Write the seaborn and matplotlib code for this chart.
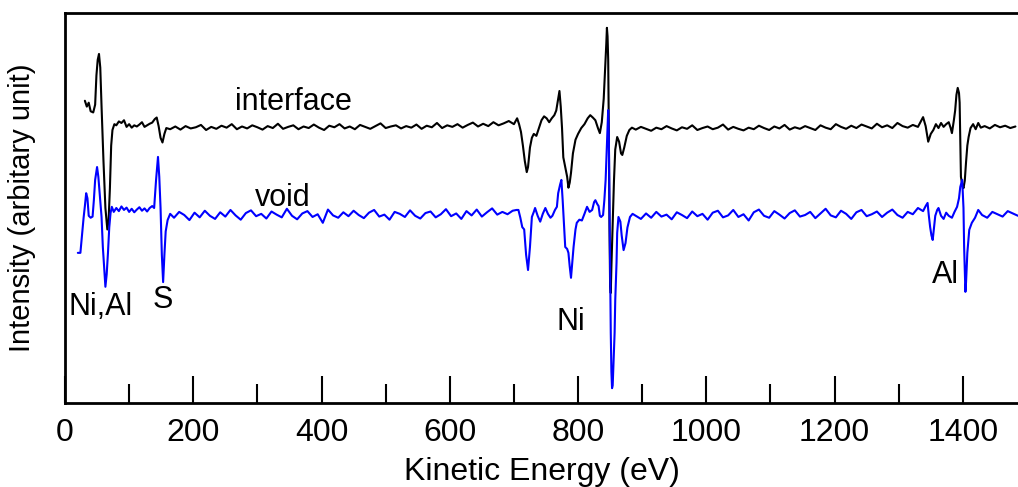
import matplotlib
matplotlib.use("Agg")
import matplotlib.pyplot as plt
from matplotlib.ticker import MultipleLocator
import numpy as np
import pandas as pd
import seaborn as sns

# ---- interface spectrum (black) ----
iface_nial_E = [31, 34, 37, 40, 44, 47, 49, 51, 53, 55, 57, 60, 63, 66, 68, 70, 72, 74, 77, 80,
                84, 88, 92, 96, 100, 104, 108, 112, 116, 120, 124, 128, 132, 136, 140, 143, 146,
                149, 152, 155, 158]
iface_nial_I = [77.5, 76.0, 77.0, 74.8, 74.5, 76.5, 84.0, 88.0, 89.5, 86.0, 76.0, 62.0, 50.0, 44.5,
                47.0, 55.0, 66.0, 70.0, 71.5, 71.2, 72.2, 71.8, 72.5, 70.8, 71.5, 70.6, 71.2, 70.9,
                71.4, 72.0, 70.8, 71.2, 71.6, 71.9, 72.8, 73.2, 71.0, 68.0, 66.8, 69.0, 70.5]
# 164 eV onwards, every 8 eV
iface_flat1_I = [70.2, 70.9, 70.1, 71.0, 70.4, 70.7, 71.3, 70.0, 70.8, 70.3,
                 71.1, 70.6, 71.5, 70.2, 70.9, 70.4, 71.2, 70.7, 70.1, 71.0,
                 70.5, 71.6, 70.3, 70.8, 71.2, 70.2, 70.9, 70.5, 71.4, 70.6,
                 70.0, 71.1, 70.7, 71.5, 70.4, 70.9, 70.2, 71.3, 70.8, 70.3,
                 71.0, 71.7, 70.5, 70.9, 71.2, 70.4, 71.0, 70.6, 71.4, 70.3,
                 71.1, 70.7, 71.8, 70.5, 71.2, 70.8, 71.5, 70.6, 71.3, 71.9,
                 70.9, 71.6, 71.0, 72.0, 71.2, 71.7, 72.3, 71.5]
iface_ni_E = [705, 708, 711, 714, 717, 720, 722, 725, 728, 731, 735, 739, 743, 747, 751, 755, 759,
              763, 766, 769, 771, 773, 775, 777, 780, 783, 785, 787, 789, 792, 796, 800, 805, 810,
              815, 819, 823, 827, 831, 834, 837, 840, 842, 844, 845, 846, 847, 848, 849, 850, 851,
              852, 854, 856, 858, 861, 864, 867, 869, 872, 876, 880, 884]
iface_ni_I = [73.0, 71.5, 69.5, 66.0, 62.0, 59.2, 60.5, 65.5, 68.0, 69.0, 68.5, 70.5, 72.5, 73.5,
              73.0, 72.0, 73.0, 73.8, 75.0, 78.0, 80.0, 76.0, 70.5, 63.0, 60.5, 58.0, 55.2, 56.5,
              59.0, 64.0, 67.5, 69.0, 70.5, 71.5, 73.0, 73.8, 73.2, 72.5, 70.5, 69.2, 72.0, 78.0,
              85.0, 92.0, 96.2, 94.0, 88.0, 70.0, 45.0, 30.0, 28.2, 35.0, 46.0, 57.0, 65.0, 68.2,
              67.0, 64.0, 63.6, 65.5, 68.5, 70.0, 70.6]
# 890 eV onwards, every 8 eV
iface_flat2_I = [70.1, 70.8, 70.3, 69.8, 70.6, 70.2, 71.0, 70.4, 69.9, 70.7,
                 70.3, 71.2, 70.0, 70.5, 70.9, 70.2, 70.6, 71.4, 70.1, 70.8,
                 70.3, 69.9, 70.6, 70.2, 71.1, 70.5, 70.0, 70.9, 70.4, 71.3,
                 70.1, 70.7, 70.3, 71.0, 70.5, 70.0, 71.2, 70.6, 70.2, 71.5,
                 70.8, 70.3, 71.1, 70.5, 71.4, 70.9, 70.4, 71.6, 70.7, 71.2,
                 70.5, 71.8, 71.0, 70.6, 71.3, 70.8]
iface_al_E = [1338, 1342, 1346, 1350, 1354, 1358, 1362, 1366, 1370, 1374, 1378, 1381, 1383, 1386,
              1388, 1390, 1392, 1394, 1395, 1396, 1397, 1399, 1401, 1403, 1405, 1407, 1409, 1412,
              1416, 1420, 1424, 1428]
iface_al_I = [73.3, 71.0, 67.0, 69.0, 70.0, 71.5, 70.5, 71.8, 70.8, 71.5, 72.0, 70.5, 69.2, 72.5,
              75.0, 79.0, 80.8, 79.5, 77.0, 68.0, 58.0, 56.0, 55.1, 57.0, 61.8, 66.0, 68.2, 70.5,
              71.5, 70.2, 71.8, 70.6]
iface_flat3_I = [71.0, 70.4, 71.3, 70.7, 71.1, 70.5, 70.9]  # 1434 eV onwards

# ---- void spectrum (blue) ----
void_nial_E = [20, 24, 27, 29, 31, 33, 35, 37, 40, 43, 45, 47, 50, 52, 55, 57, 59, 61, 63, 65, 67,
               69, 71, 73, 76, 80, 84, 88, 92, 96, 100, 104, 108, 112, 116, 120, 124, 128, 132,
               136, 139, 142, 145, 147, 149, 151, 153, 155, 157, 160, 164]
void_nial_I = [38.5, 38.5, 44.0, 47.5, 50.5, 53.8, 52.5, 48.0, 47.5, 47.8, 52.0, 57.2, 60.5, 58.0,
               52.0, 47.7, 40.0, 34.9, 29.8, 33.0, 38.5, 45.0, 48.7, 50.3, 49.0, 50.0, 49.2, 50.4,
               49.5, 50.1, 49.0, 49.8, 48.9, 49.6, 50.2, 49.3, 49.9, 49.1, 50.0, 50.5, 50.0, 57.2,
               63.1, 58.0, 50.0, 38.0, 31.0, 38.0, 44.0, 46.9, 48.5]
# 170 eV onwards, every 8 eV
void_flat1_I = [47.5, 49.0, 48.2, 46.9, 48.8, 47.6, 49.3, 48.0, 47.2, 48.9,
                47.8, 49.5, 48.1, 47.0, 48.7, 49.4, 47.9, 48.5, 47.3, 49.1,
                48.3, 47.6, 49.8, 48.0, 47.1, 48.6, 49.2, 47.7, 48.4, 46.2,
                49.6, 48.1, 47.5, 48.9, 47.9, 49.3, 48.2, 47.4, 48.8, 49.5,
                47.8, 48.3, 47.0, 49.0, 48.5, 47.7, 49.4, 48.0, 47.3, 48.7,
                49.1, 47.6, 48.4, 49.7, 47.9, 48.6, 47.2, 49.2, 48.1, 49.6,
                47.8, 48.9, 49.9, 48.3, 49.0, 48.4, 49.3]
void_ni_E = [704, 707, 710, 713, 716, 719, 722, 725, 728, 731, 733, 737, 741, 745, 749, 753, 757,
             760, 764, 767, 769, 772, 774, 776, 778, 780, 783, 785, 787, 789, 791, 793, 796, 798,
             802, 806, 810, 814, 818, 822, 825, 827, 830, 832, 834, 836, 839, 841, 843, 845, 847,
             848, 849, 850, 851, 852, 853, 854, 855, 857, 858, 860, 861, 863, 866, 868, 871, 874,
             877, 881, 885]
void_ni_I = [49.5, 49.5, 47.5, 45.1, 44.5, 38.0, 34.1, 40.0, 47.7, 49.0, 50.0, 48.0, 46.5, 48.5,
             50.0, 48.5, 47.5, 48.0, 49.5, 50.3, 53.8, 56.0, 57.2, 52.0, 46.0, 40.0, 39.5, 38.5,
             35.0, 32.1, 36.0, 40.0, 44.5, 46.2, 47.0, 46.8, 48.5, 50.3, 49.0, 49.5, 51.5, 52.0,
             51.0, 50.5, 48.0, 47.7, 48.2, 52.0, 57.2, 66.0, 75.1, 68.0, 52.0, 35.0, 18.0, 8.0,
             3.8, 4.5, 9.2, 18.0, 26.4, 36.0, 43.6, 47.7, 46.5, 43.0, 39.2, 41.0, 45.0, 47.7, 48.5]
# 890 eV onwards, every 8 eV
void_flat2_I = [48.0, 47.2, 48.6, 47.5, 49.0, 47.8, 48.3, 47.1, 48.9, 48.2,
                47.4, 49.1, 47.9, 48.5, 47.0, 48.8, 49.3, 47.6, 48.1, 49.5,
                47.7, 48.4, 46.8, 48.9, 49.6, 48.0, 47.5, 49.2, 48.3, 47.3,
                48.7, 49.4, 47.8, 48.2, 49.0, 47.4, 48.6, 49.8, 48.1, 47.6,
                49.3, 48.5, 47.2, 48.9, 49.5, 47.9, 48.4, 49.1, 47.7, 48.8,
                49.6, 48.2, 47.5, 49.0, 48.4, 50.0, 49.2]
void_al_E = [1342, 1345, 1347, 1349, 1351, 1353, 1355, 1357, 1360, 1362, 1366, 1370, 1374, 1378,
             1383, 1387, 1391, 1394, 1396, 1399, 1401, 1402, 1404, 1405, 1407, 1410, 1414, 1419,
             1424]
void_al_I = [50.5, 51.3, 48.0, 45.1, 43.0, 41.8, 45.0, 48.0, 49.5, 50.0, 48.0, 47.2, 48.8, 48.0,
             47.5, 49.0, 50.3, 52.5, 55.4, 57.2, 50.0, 40.0, 28.5, 31.0, 38.5, 44.4, 46.2, 47.5,
             49.5]
void_flat3_I = [48.2, 47.5, 49.0, 48.4, 47.8, 49.2, 48.6, 48.0]  # 1430 eV onwards

# peak labels: text, energy (eV), height
peak_labels = ["interface", "void", "Ni,Al", "S", "Ni", "Al"]
label_E = [265, 296, 5, 137, 767, 1352]
label_I = [75.1, 50.5, 22.6, 24.4, 18.7, 30.8]


def grid(start, vals, step=8):
    return [start + step * i for i in range(len(vals))]


iface = pd.DataFrame({
    "E": iface_nial_E + grid(164, iface_flat1_I) + iface_ni_E + grid(890, iface_flat2_I)
         + iface_al_E + grid(1434, iface_flat3_I),
    "I": iface_nial_I + iface_flat1_I + iface_ni_I + iface_flat2_I + iface_al_I + iface_flat3_I,
}).sort_values("E")
void = pd.DataFrame({
    "E": void_nial_E + grid(170, void_flat1_I) + void_ni_E + grid(890, void_flat2_I)
         + void_al_E + grid(1430, void_flat3_I),
    "I": void_nial_I + void_flat1_I + void_ni_I + void_flat2_I + void_al_I + void_flat3_I,
}).sort_values("E")

sns.set_style("white")
plt.rcParams["font.family"] = ["Liberation Sans", "DejaVu Sans"]

fig = plt.figure(figsize=(10.18, 4.87), dpi=100)
ax = fig.add_axes([65 / 1018, 84 / 487, 953 / 1018, 390 / 487])

sns.lineplot(data=iface, x="E", y="I", color="black", lw=1.5, estimator=None, sort=False, ax=ax)
sns.lineplot(data=void, x="E", y="I", color="#0000ff", lw=1.5, estimator=None, sort=False, ax=ax)

for txt, e, v in zip(peak_labels, label_E, label_I):
    ax.text(e, v, txt, fontsize=22, ha="left", va="baseline", color="black")

ax.set_xlim(0, 1486)
ax.set_ylim(0, 100)
ax.set_yticks([])
ax.xaxis.set_major_locator(MultipleLocator(200))
ax.xaxis.set_minor_locator(MultipleLocator(100))
ax.tick_params(axis="x", which="both", direction="in", bottom=True, top=False,
               width=1.5, color="black", labelcolor="black", labelsize=23, pad=11)
ax.tick_params(axis="x", which="major", length=19.5)
ax.tick_params(axis="x", which="minor", length=13.5)

for side in ["left", "top", "bottom"]:
    ax.spines[side].set_linewidth(2.0)
    ax.spines[side].set_color("black")
ax.spines["right"].set_visible(False)

ax.set_xlabel("Kinetic Energy (eV)", fontsize=23, labelpad=6, color="black")
ax.set_ylabel("Intensity (arbitary unit)", fontsize=21, color="black")
ax.yaxis.set_label_coords(-0.045, 0.5)
ax.yaxis.label.set_va("center")

fig.savefig("out.png", dpi=100)
